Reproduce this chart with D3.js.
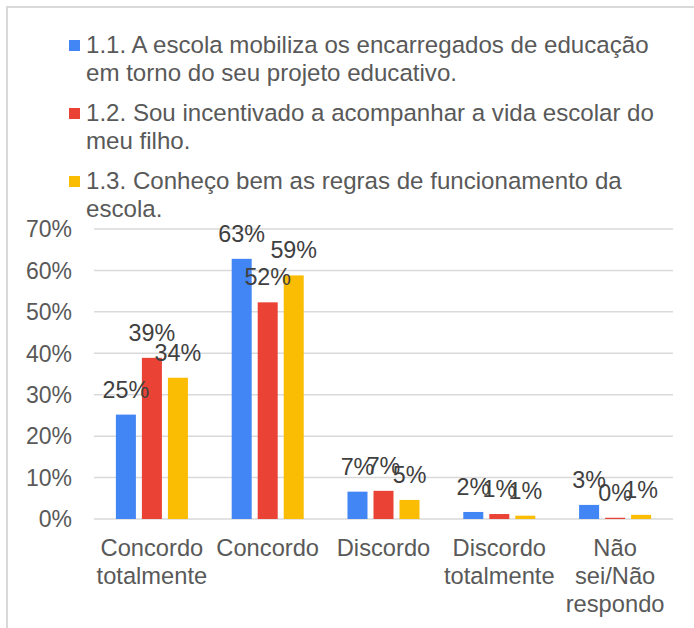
<!DOCTYPE html>
<html>
<head>
<meta charset="utf-8">
<script src="https://cdn.jsdelivr.net/npm/d3@7"></script>
<style>
  html, body { margin: 0; padding: 0; background: #fff; }
  svg { display: block; }
  text { font-family: Arial, "Liberation Sans", Helvetica, sans-serif; }
</style>
</head>
<body>
<div id="chart"></div>
<script>
const categories = [["Concordo", "totalmente"], ["Concordo"], ["Discordo"], ["Discordo", "totalmente"], ["Não", "sei/Não", "respondo"]];
const seriesNames = [
  ["1.1. A escola mobiliza os encarregados de educação", "em torno do seu projeto educativo."],
  ["1.2. Sou incentivado a acompanhar a vida escolar do", "meu filho."],
  ["1.3. Conheço bem as regras de funcionamento da", "escola."]
];
const series1 = [25.2, 62.8, 6.6, 1.7, 3.4];
const series2 = [38.9, 52.3, 6.8, 1.2, 0.3];
const series3 = [34.1, 58.8, 4.6, 0.8, 1.0];
const seriesColors = ["#4285F4", "#EA4335", "#FBBC04"];
const yTicks = [0, 10, 20, 30, 40, 50, 60, 70];

const W = 694, H = 628;
const FONT = 'Arial, "Liberation Sans", Helvetica, sans-serif';
const svg = d3.select("#chart").append("svg").attr("width", W).attr("height", H);

// frame
svg.append("line").attr("x1", 7).attr("x2", W).attr("y1", 7).attr("y2", 7)
  .attr("stroke", "#d9d9d9").attr("stroke-width", 2);
svg.append("line").attr("x1", 7).attr("x2", 7).attr("y1", 6).attr("y2", H)
  .attr("stroke", "#d9d9d9").attr("stroke-width", 2);

// legend
const legend = svg.append("g");
seriesNames.forEach((lines, i) => {
  const baseY = 53 + i * 68;
  legend.append("rect").attr("x", 69).attr("y", baseY - 13).attr("width", 11).attr("height", 11)
    .attr("fill", seriesColors[i]);
  lines.forEach((ln, j) => {
    legend.append("text").attr("x", 86).attr("y", baseY + j * 28)
      .attr("font-family", FONT).attr("font-size", 24.1).attr("fill", "#595959").text(ln);
  });
});

const plotLeft = 94, plotRight = 673, plotTop = 229, plotBottom = 519;
const y = d3.scaleLinear().domain([0, 70]).range([plotBottom, plotTop]);
const x0 = d3.scaleBand().domain(d3.range(categories.length)).range([plotLeft, plotRight])
  .paddingInner(0.378).paddingOuter(0.189);
const x1 = d3.scaleBand().domain([0, 1, 2]).range([0, x0.bandwidth()]).paddingInner(0.2308).paddingOuter(0);

// gridlines
svg.append("g").selectAll("line").data(yTicks).join("line")
  .attr("x1", plotLeft).attr("x2", plotRight)
  .attr("y1", d => y(d)).attr("y2", d => y(d))
  .attr("stroke", "#d9d9d9").attr("stroke-width", 1.5);

// y axis labels
const yAxis = d3.axisLeft(y).tickValues(yTicks).tickFormat(d => d + "%").tickSize(0).tickPadding(0);
const yg = svg.append("g").attr("transform", `translate(72,0)`).call(yAxis);
yg.select(".domain").remove();
yg.selectAll("text").attr("font-size", 23).attr("fill", "#595959")
  .attr("font-family", FONT).attr("dy", "0.34em");

// bars
const allSeries = [series1, series2, series3];
const data = [];
categories.forEach((c, ci) => {
  allSeries.forEach((s, si) => data.push({ ci, si, v: s[ci] }));
});
const bars = svg.append("g");
bars.selectAll("rect").data(data).join("rect")
  .attr("x", d => x0(d.ci) + x1(d.si))
  .attr("width", x1.bandwidth())
  .attr("y", d => y(d.v))
  .attr("height", d => y(0) - y(d.v))
  .attr("fill", d => seriesColors[d.si]);

// data labels
svg.append("g").selectAll("text").data(data).join("text")
  .attr("x", d => x0(d.ci) + x1(d.si) + x1.bandwidth() / 2)
  .attr("y", d => y(d.v) - 17)
  .attr("text-anchor", "middle")
  .attr("font-family", FONT).attr("font-size", 23.3).attr("fill", "#404040")
  .text(d => Math.round(d.v) + "%");

// category labels
const xg = svg.append("g");
categories.forEach((lines, ci) => {
  lines.forEach((ln, j) => {
    xg.append("text").attr("x", x0(ci) + x0.bandwidth() / 2).attr("y", 556 + j * 28)
      .attr("text-anchor", "middle").attr("font-family", FONT).attr("font-size", 23.7)
      .attr("fill", "#595959").text(ln);
  });
});
</script>
</body>
</html>
